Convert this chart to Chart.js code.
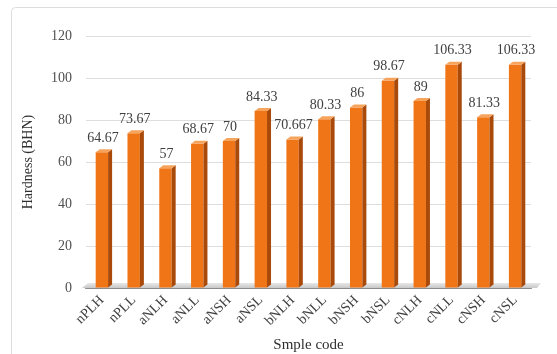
<!DOCTYPE html>
<html>
<head>
<meta charset="utf-8">
<script src="https://cdn.jsdelivr.net/npm/chart.js@4/dist/chart.umd.min.js"></script>
<style>
  html, body { margin: 0; padding: 0; background: #fff; }
  #wrap { width: 557px; height: 354px; }
</style>
</head>
<body>
<div id="wrap"><canvas id="hardness" width="557" height="354"></canvas></div>
<script>
const codes = ['nPLH', 'nPLL', 'aNLH', 'aNLL', 'aNSH', 'aNSL', 'bNLH', 'bNLL', 'bNSH', 'bNSL', 'cNLH', 'cNLL', 'cNSH', 'cNSL'];
const hardness = [64.67, 73.67, 57, 68.67, 70, 84.33, 70.667, 80.33, 86, 98.67, 89, 106.33, 81.33, 106.33];
const yTicks = [0, 20, 40, 60, 80, 100, 120];

const serif = '"Liberation Serif", "Times New Roman", serif';

// frame, floor, 3d faces and value labels
const look3d = {
    id: 'look3d',
    beforeDraw(chart) {
        const c = chart.ctx;
        c.save();
        c.strokeStyle = '#dcdcdc';
        c.lineWidth = 1;
        c.beginPath();
        c.roundRect(11.5, 7.5, 560, 360, 4);
        c.stroke();
        c.restore();
    },
    beforeDatasetsDraw(chart) {
        const c = chart.ctx, a = chart.chartArea;
        c.save();
        const g = c.createLinearGradient(0, a.bottom - 6, 0, a.bottom);
        g.addColorStop(0, '#eeeeee');
        g.addColorStop(1, '#c8c8c8');
        c.fillStyle = g;
        c.beginPath();
        c.moveTo(a.left - 4, a.bottom);
        c.lineTo(a.right + 6, a.bottom);
        c.lineTo(a.right + 10, a.bottom - 5);
        c.lineTo(a.left + 2, a.bottom - 5);
        c.closePath();
        c.fill();
        c.restore();
    },
    afterDatasetsDraw(chart) {
        const c = chart.ctx;
        const d = 4, dy = 3;
        c.save();
        chart.getDatasetMeta(0).data.forEach((bar, i) => {
            const p = bar.getProps(['x', 'y', 'base', 'width'], true);
            const l = p.x - p.width / 2, r = p.x + p.width / 2;
            c.fillStyle = '#a9490a';
            c.beginPath();
            c.moveTo(r, p.y);
            c.lineTo(r + d, p.y - dy);
            c.lineTo(r + d, p.base - dy);
            c.lineTo(r, p.base);
            c.closePath();
            c.fill();
            c.fillStyle = '#f6a35c';
            c.beginPath();
            c.moveTo(l, p.y);
            c.lineTo(r, p.y);
            c.lineTo(r + d, p.y - dy);
            c.lineTo(l + d, p.y - dy);
            c.closePath();
            c.fill();
            c.fillStyle = '#404040';
            c.font = '14px ' + serif;
            c.textAlign = 'center';
            c.textBaseline = 'middle';
            c.fillText(String(hardness[i]), p.x + 1, p.y - 14);
        });
        c.restore();
    }
};

new Chart(document.getElementById('hardness'), {
    type: 'bar',
    data: {
        labels: codes,
        datasets: [{
            label: 'Hardness (BHN)',
            data: hardness,
            backgroundColor: '#ef7517',
            borderWidth: 0,
            barPercentage: 0.39,
            categoryPercentage: 1
        }]
    },
    options: {
        responsive: false,
        animation: false,
        events: [],
        layout: { padding: { left: 20, right: 26, top: 36, bottom: 0 } },
        plugins: {
            legend: { display: false },
            tooltip: { enabled: false }
        },
        scales: {
            x: {
                grid: { display: false, drawTicks: false },
                border: { display: true, color: '#3a3a3a', width: 1.5 },
                ticks: {
                    color: '#404040',
                    font: { family: serif, size: 14 },
                    minRotation: 45,
                    maxRotation: 45,
                    padding: 4
                },
                title: {
                    display: true,
                    text: 'Smple code',
                    color: '#303030',
                    font: { family: serif, size: 15 },
                    padding: { top: 0, bottom: 0 }
                },
                afterFit(scale) { scale.height = 66; }
            },
            y: {
                min: 0,
                max: 120,
                afterBuildTicks(scale) { scale.ticks = yTicks.map(v => ({ value: v })); },
                grid: { color: '#dedede', drawTicks: false },
                border: { display: false },
                ticks: {
                    color: '#505050',
                    font: { family: serif, size: 14 },
                    padding: 14
                },
                title: {
                    display: true,
                    text: 'Hardness (BHN)',
                    color: '#303030',
                    font: { family: serif, size: 14 },
                    padding: { top: 0, bottom: 0 }
                },
                afterFit(scale) { scale.width = 66; }
            }
        }
    },
    plugins: [look3d]
});
</script>
</body>
</html>
